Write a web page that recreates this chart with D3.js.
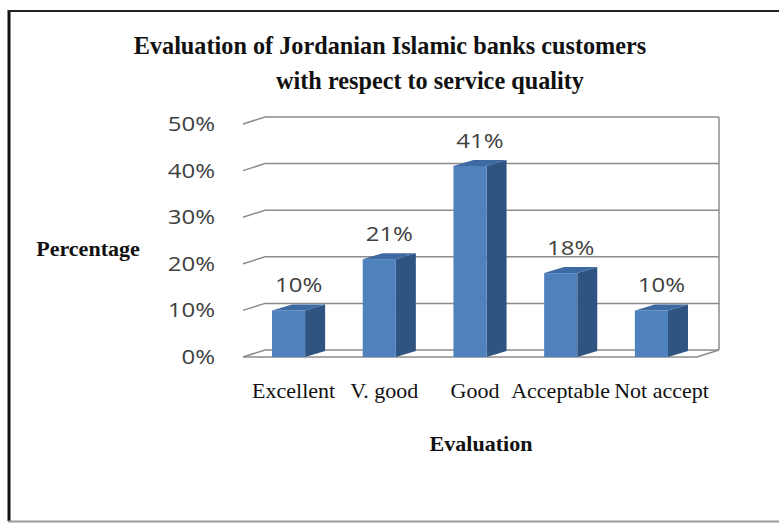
<!DOCTYPE html>
<html>
<head>
<meta charset="utf-8">
<script src="https://cdn.jsdelivr.net/npm/d3@7"></script>
<style>
  html, body { margin: 0; padding: 0; background: #fff; }
  svg { display: block; }
</style>
</head>
<body>
<svg id="chart" width="779" height="523"></svg>
<script>
// Survey results: share of respondents per service-quality rating
const categories = ["Excellent", "V. good", "Good", "Acceptable", "Not accept"];
const values = [10, 21, 41, 18, 10];
const tickValues = [0, 10, 20, 30, 40, 50];
const titleLines = ["Evaluation of Jordanian Islamic banks customers", "with respect to service quality"];
const yTitle = "Percentage";
const xTitle = "Evaluation";

const svg = d3.select("#chart");

// 3D box geometry: front floor edge and depth offset of the back wall
const floorLeft = 243, floorRight = 697, floorY = 357, plotTop = 124;
const depthX = 22, depthY = -7;
const barDX = 20, barDY = -6;

const x = d3.scaleBand()
  .domain(categories)
  .range([floorLeft, floorRight])
  .paddingInner(0.635)
  .paddingOuter(0.32);

const y = d3.scaleLinear().domain([0, 50]).range([floorY, plotTop]);

// Frame
svg.append("line").attr("x1", 9).attr("x2", 9).attr("y1", 10).attr("y2", 521)
  .attr("stroke", "#111").attr("stroke-width", 3);
svg.append("line").attr("x1", 8).attr("x2", 779).attr("y1", 11).attr("y2", 11)
  .attr("stroke", "#222").attr("stroke-width", 2);
svg.append("line").attr("x1", 8).attr("x2", 779).attr("y1", 521.5).attr("y2", 521.5)
  .attr("stroke", "#999").attr("stroke-width", 2);

const grid = svg.append("g").attr("fill", "none").attr("stroke", "#8c8c8c").attr("stroke-width", 1.5);

// Side-wall diagonals and back-wall gridlines
tickValues.forEach(t => {
  const yf = y(t);
  grid.append("path")
    .attr("d", `M${floorLeft},${yf}L${floorLeft + depthX},${yf + depthY}L${floorRight + depthX},${yf + depthY}`);
});
// Floor front edge, right floor diagonal and back-right vertical edge
grid.append("path").attr("d", `M${floorLeft},${floorY}L${floorRight},${floorY}L${floorRight + depthX},${floorY + depthY}`);
grid.append("path").attr("d", `M${floorRight + depthX},${y(0) + depthY}L${floorRight + depthX},${y(50) + depthY}`);

// Y axis tick labels
const sansScale = 1.2;
const sansFont = "'Open Sans', sans-serif";
svg.append("g").selectAll("text").data(tickValues).join("text")
  .attr("transform", d => `translate(215,${y(d) + 7}) scale(${sansScale},1)`)
  .attr("text-anchor", "end")
  .attr("font-family", sansFont)
  .attr("font-size", 20)
  .attr("fill", "#404040")
  .text(d => d + "%");

// Bars: right side face, top face, front face
const rows = categories.map((c, i) => ({ c, v: values[i] }));
const bars = svg.append("g").selectAll("g").data(rows).join("g");
bars.each(function (d) {
  const g = d3.select(this);
  const x0 = x(d.c), w = x.bandwidth(), yt = y(d.v), yb = y(0);
  g.append("path")
    .attr("d", `M${x0 + w},${yt}L${x0 + w + barDX},${yt + barDY}L${x0 + w + barDX},${yb + barDY}L${x0 + w},${yb}Z`)
    .attr("fill", "#2f5482");
  g.append("path")
    .attr("d", `M${x0},${yt}L${x0 + barDX},${yt + barDY}L${x0 + w + barDX},${yt + barDY}L${x0 + w},${yt}Z`)
    .attr("fill", "#3d6aa3");
  g.append("rect")
    .attr("x", x0).attr("y", yt).attr("width", w).attr("height", yb - yt)
    .attr("fill", "#4f81bd");
});

// Value labels above bars
svg.append("g").selectAll("text").data(rows).join("text")
  .attr("transform", d => `translate(${x(d.c) + (x.bandwidth() + barDX) / 2},${y(d.v) + barDY - 12}) scale(${sansScale},1)`)
  .attr("text-anchor", "middle")
  .attr("font-family", sansFont)
  .attr("font-size", 20)
  .attr("fill", "#404040")
  .text(d => d.v + "%");

// Category labels, nudged apart where neighbours would collide
const serifFont = "'Liberation Serif', 'Times New Roman', serif";
const serifScale = 1.1;
const catLabels = svg.append("g").selectAll("text").data(categories).join("text")
  .attr("text-anchor", "middle")
  .attr("font-family", serifFont)
  .attr("font-size", 20)
  .attr("fill", "#111")
  .text(d => d);
const pos = categories.map(c => x(c) + x.bandwidth() / 2 + 5);
const widths = catLabels.nodes().map(n => n.getComputedTextLength() * serifScale);
const gap = 4;
for (let iter = 0; iter < 20; iter++) {
  for (let i = 0; i < pos.length - 1; i++) {
    const overlap = (pos[i] + widths[i] / 2 + gap) - (pos[i + 1] - widths[i + 1] / 2);
    if (overlap > 0) { pos[i] -= overlap / 2; pos[i + 1] += overlap / 2; }
  }
}
catLabels.attr("transform", (d, i) => `translate(${pos[i]},398) scale(${serifScale},1)`);

// Titles
const title = svg.append("g")
  .attr("font-family", serifFont)
  .attr("font-weight", "bold")
  .attr("fill", "#111");
title.append("text").attr("transform", "translate(390,54) scale(1.055,1.1)")
  .attr("text-anchor", "middle").attr("font-size", 23).text(titleLines[0]);
title.append("text").attr("transform", "translate(430,89) scale(1.055,1.1)")
  .attr("text-anchor", "middle").attr("font-size", 23).text(titleLines[1]);
title.append("text").attr("transform", "translate(88,256) scale(1.05,1)")
  .attr("text-anchor", "middle").attr("font-size", 21).text(yTitle);
title.append("text").attr("transform", "translate(481,451) scale(1.05,1)")
  .attr("text-anchor", "middle").attr("font-size", 21).text(xTitle);
</script>
</body>
</html>
